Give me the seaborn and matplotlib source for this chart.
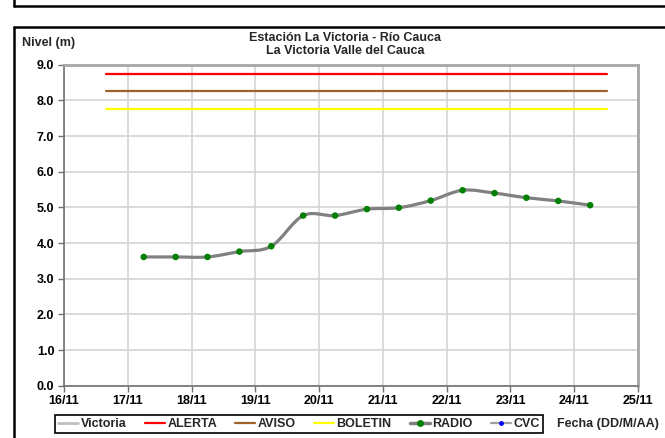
import matplotlib
matplotlib.use('Agg')
import matplotlib.pyplot as plt
import numpy as np
import seaborn as sns
from matplotlib.path import Path
from matplotlib.patches import PathPatch
from matplotlib.lines import Line2D

# Datos (día de noviembre, fracción = hora del día)
dias_radio = [17.25, 17.75, 18.25, 18.75, 19.25, 19.75, 20.25, 20.75,
              21.25, 21.75, 22.25, 22.75, 23.25, 23.75, 24.25]
nivel_radio = [3.61, 3.61, 3.61, 3.76, 3.91, 4.77, 4.77, 4.95,
               4.99, 5.19, 5.48, 5.40, 5.27, 5.18, 5.06]
nivel_victoria = []
nivel_cvc = []

umbral_dias = [16.66, 24.52]
alerta = 8.75
aviso = 8.25
boletin = 7.75

ticks_x = list(range(16, 26))
etiquetas_x = [f'{d}/11' for d in ticks_x]
ticks_y = np.arange(0, 9.01, 1.0)

sns.set_theme(style='whitegrid')
plt.rcParams['font.family'] = ['Liberation Sans', 'DejaVu Sans']
plt.rcParams['font.weight'] = 'bold'


def curva_suave(x, y, t=1/6):
    # curva tipo "línea suavizada" de Excel (Bezier por los puntos)
    verts = [(x[0], y[0])]
    codes = [Path.MOVETO]
    n = len(x)
    for i in range(n - 1):
        xa, ya = (x[i-1], y[i-1]) if i > 0 else (x[i], y[i])
        xb, yb = (x[i+2], y[i+2]) if i + 2 < n else (x[i+1], y[i+1])
        c1 = (x[i] + (x[i+1] - xa) * t, y[i] + (y[i+1] - ya) * t)
        c2 = (x[i+1] - (xb - x[i]) * t, y[i+1] - (yb - y[i]) * t)
        verts += [c1, c2, (x[i+1], y[i+1])]
        codes += [Path.CURVE4] * 3
    return Path(verts, codes)


W, H = 665, 438
fig = plt.figure(figsize=(W / 100, H / 100), dpi=100)
fig.patch.set_facecolor('white')
ax = fig.add_axes([64 / W, 1 - 385.7 / H, (638 - 64) / W, (385.7 - 64.7) / H])
ax.set_facecolor('white')

# umbrales
sns.lineplot(x=umbral_dias, y=[alerta] * 2, color='#ff0000', lw=1.6, ax=ax, legend=False)
sns.lineplot(x=umbral_dias, y=[aviso] * 2, color='#a0622d', lw=1.6, ax=ax, legend=False)
sns.lineplot(x=umbral_dias, y=[boletin] * 2, color='#ffff00', lw=1.6, ax=ax, legend=False)

# serie RADIO
ax.add_patch(PathPatch(curva_suave(dias_radio, nivel_radio), facecolor='none',
                       edgecolor='#808080', lw=2.3, capstyle='round', zorder=3))
sns.scatterplot(x=dias_radio, y=nivel_radio, color='#008000', s=22,
                edgecolor='none', ax=ax, zorder=4, legend=False)

ax.set_xlim(16, 25)
ax.set_ylim(0, 9)
ax.set_xticks(ticks_x)
ax.set_xticklabels(etiquetas_x)
ax.set_yticks(ticks_y)
ax.set_yticklabels([f'{v:.1f}' for v in ticks_y])
ax.set_xlabel('')
ax.set_ylabel('')
ax.grid(True, color='#d4d4d4', lw=1.2)
ax.tick_params(axis='both', labelsize=9, colors='black', pad=3)
ax.tick_params(axis='both', which='major', direction='out', length=4, width=1,
               color='#707070', bottom=True, left=True)
for s in ['left', 'bottom']:
    ax.spines[s].set_color('#707070')
    ax.spines[s].set_linewidth(1.2)
for s in ['top', 'right']:
    ax.spines[s].set_color('#a6a6a6')
    ax.spines[s].set_linewidth(2)
for lab in ax.get_xticklabels() + ax.get_yticklabels():
    lab.set_fontweight('bold')

# leyenda
handles = [
    ax.plot(nivel_victoria, nivel_victoria, color='#c0c0c0', lw=2)[0],
    Line2D([], [], color='#ff0000', lw=1.6),
    Line2D([], [], color='#a0622d', lw=1.6),
    Line2D([], [], color='#ffff00', lw=1.6),
    Line2D([], [], color='#808080', lw=2.5, marker='o', ms=4,
           markerfacecolor='#008000', markeredgecolor='#008000'),
    ax.plot(nivel_cvc, nivel_cvc, color='#a0a0a0', lw=1.6, marker='o', ms=2.5,
            markerfacecolor='#0000ff', markeredgecolor='#0000ff')[0],
]
labels = ['Victoria', 'ALERTA', 'AVISO', 'BOLETIN', 'RADIO', 'CVC']
leg = fig.legend(handles, labels, loc='center', bbox_to_anchor=(299 / W, 1 - 424 / H),
                 ncol=6, frameon=True, fancybox=False, framealpha=1, edgecolor='black',
                 fontsize=9, handlelength=1.6, handletextpad=0.2, columnspacing=1.45,
                 borderpad=0.25, borderaxespad=0)
leg.get_frame().set_linewidth(1.2)
for t in leg.get_texts():
    t.set_fontweight('bold')

# textos
fig.text(345 / W, 1 - 38 / H, 'Estación La Victoria - Río Cauca', ha='center', va='center',
         fontsize=9, fontweight='bold')
fig.text(345 / W, 1 - 51 / H, 'La Victoria Valle del Cauca', ha='center', va='center',
         fontsize=9, fontweight='bold')
fig.text(22 / W, 1 - 43 / H, 'Nivel (m)', ha='left', va='center', fontsize=9, fontweight='bold')
fig.text(659 / W, 1 - 424 / H, 'Fecha (DD/M/AA)', ha='right', va='center', fontsize=9,
         fontweight='bold')

# marcos
borde = dict(color='black', lw=1.8, transform=fig.transFigure)
fig.add_artist(Line2D([14 / W, 14 / W], [1, 1 - 6 / H], **borde))
fig.add_artist(Line2D([14 / W, 1], [1 - 6 / H, 1 - 6 / H], **borde))
fig.add_artist(Line2D([14 / W, 1], [1 - 27 / H, 1 - 27 / H], **borde))
fig.add_artist(Line2D([14 / W, 14 / W], [1 - 27 / H, 0], **borde))

fig.savefig('out.png', dpi=100)
